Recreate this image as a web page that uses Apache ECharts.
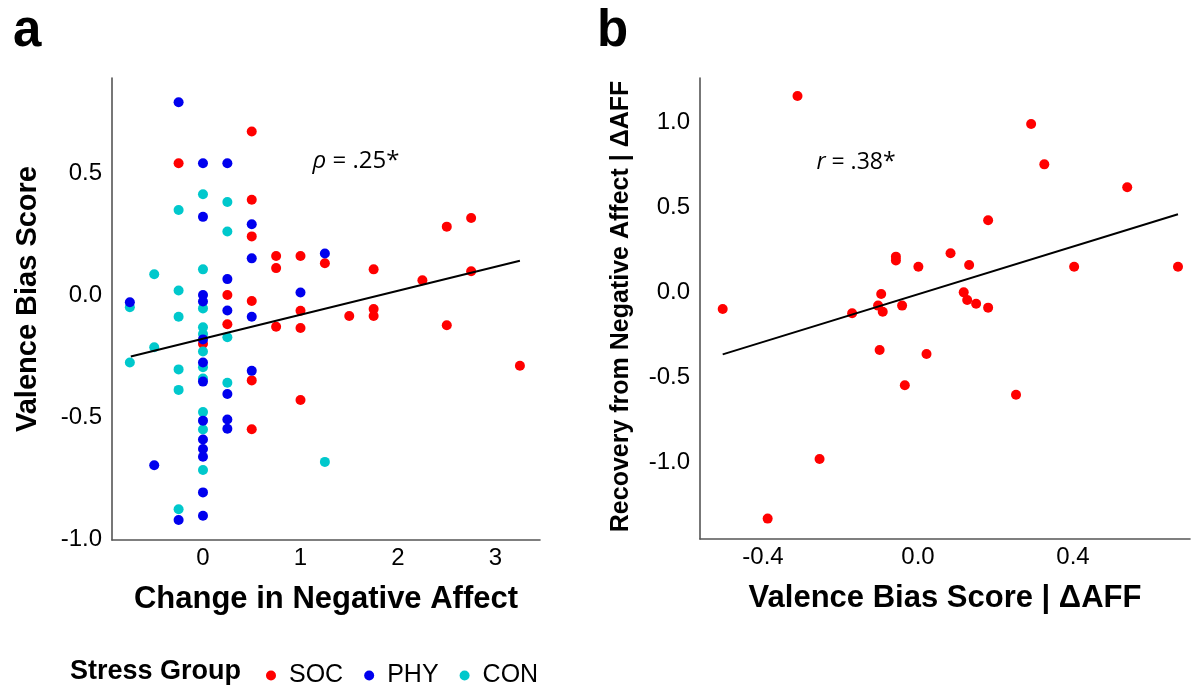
<!DOCTYPE html>
<html><head><meta charset="utf-8">
<script src="https://cdn.jsdelivr.net/npm/echarts@6/dist/echarts.min.js"></script>
<style>html,body{margin:0;padding:0;background:#fff}#c{width:1202px;height:686px}</style>
</head><body><div id="c"></div>
<script>
// ---- Panel a data: [Change in Negative Affect, Valence Bias Score]
const socA = [[-0.25,0.54],[0.5,0.67],[0.5,0.39],[0.5,0.24],[0.75,0.16],[1.0,0.16],[0.75,0.11],[1.25,0.13],
  [0.25,0.0],[0.5,-0.025],[1.0,-0.065],[0.25,-0.12],[0.75,-0.13],[1.0,-0.135],[0,-0.2],[0.5,-0.35],[1.0,-0.43],
  [0.5,-0.55],[2.5,0.28],[2.75,0.315],[1.75,0.105],[2.25,0.06],[2.75,0.097],[1.75,-0.058],[1.75,-0.086],
  [1.5,-0.086],[2.5,-0.124],[3.25,-0.29]];
const phyA = [[-0.25,0.79],[0,0.54],[0.25,0.54],[0,0.32],[0.5,0.29],[0.5,0.15],[1.25,0.17],[0.25,0.065],
  [0,0.0],[1.0,0.01],[-0.75,-0.03],[0,-0.027],[0.25,-0.064],[0.5,-0.089],[0,-0.182],[0,-0.277],[0.5,-0.311],
  [0,-0.355],[0.25,-0.406],[0,-0.515],[0.25,-0.51],[0.25,-0.548],[0,-0.592],[0,-0.631],[0,-0.663],
  [-0.5,-0.698],[0,-0.809],[-0.25,-0.922],[0,-0.905]];
const conA = [[0,0.413],[0.25,0.381],[-0.25,0.348],[0.25,0.26],[-0.5,0.085],[0,0.105],[-0.25,0.018],
  [-0.75,-0.05],[0,-0.055],[-0.25,-0.089],[0,-0.132],[0,-0.16],[0.25,-0.173],[-0.5,-0.214],[-0.75,-0.277],
  [0,-0.232],[0,-0.296],[-0.25,-0.305],[0,-0.342],[0.25,-0.36],[-0.25,-0.389],[0,-0.48],[0,-0.551],
  [1.25,-0.684],[0,-0.717],[-0.25,-0.878]];
const fitA = [[-0.74,-0.252],[3.25,0.14]];
// ---- Panel b data: [Valence Bias Score | dAFF, Recovery | dAFF]
const ptsB = [[-0.311,1.153],[0.292,0.988],[0.326,0.751],[0.54,0.616],[0.181,0.422],[0.084,0.228],
  [-0.057,0.208],[-0.057,0.186],[0.001,0.149],[0.132,0.159],[0.403,0.149],[0.671,0.149],[-0.095,-0.012],
  [0.118,-0.002],[0.127,-0.047],[0.15,-0.069],[0.181,-0.092],[-0.504,-0.1],[-0.17,-0.125],[-0.103,-0.08],
  [-0.091,-0.116],[-0.041,-0.08],[-0.099,-0.341],[0.022,-0.365],[-0.034,-0.549],[-0.254,-0.982],
  [-0.388,-1.333],[0.253,-0.604]];
const fitB = [[-0.504,-0.367],[0.671,0.457]];
// ---- tick labels
const ticksAx = [0,1,2,3];
const ticksAy = [-1,-0.5,0,0.5];
const ticksBx = [-0.4,0,0.4];
const ticksBy = [-1,-0.5,0,0.5,1];
const groups = ['SOC','PHY','CON'];

const FONT = 'Liberation Sans';
const axisLine = {show:true, onZero:false, lineStyle:{color:'#555555', width:1.6}};
function xAx(grid, min, max, ticks, fmt, name, size){
  return {gridIndex:grid, type:'value', min:min, max:max, splitLine:{show:false}, axisLine:axisLine,
    axisTick:{show:false, customValues:ticks},
    axisLabel:{customValues:ticks, formatter:fmt, fontSize:24, color:'#000', fontFamily:FONT, margin:6},
    name:name, nameLocation:'middle', nameGap:44,
    nameTextStyle:{fontSize:size, fontWeight:'bold', color:'#000', fontFamily:FONT}};
}
function yAx(grid, min, max, ticks, name, size, gap, pad){
  return {gridIndex:grid, type:'value', min:min, max:max, splitLine:{show:false}, axisLine:axisLine,
    axisTick:{show:false, customValues:ticks},
    axisLabel:{customValues:ticks, formatter:v=>v.toFixed(1), fontSize:24, color:'#000', fontFamily:FONT, margin:10},
    name:name, nameLocation:'middle', nameGap:gap, nameRotate:90,
    nameTextStyle:{fontSize:size, fontWeight:'bold', color:'#000', fontFamily:FONT, padding:pad}};
}
const chart = echarts.init(document.getElementById('c'), null, {renderer:'canvas'});
const dot = 10;
chart.setOption({
  animation:false,
  backgroundColor:'#fff',
  grid:[{left:112, top:78, width:428, height:462}, {left:700, top:78, width:490, height:461}],
  xAxis:[xAx(0,-0.933,3.456,ticksAx,v=>String(v),'Change in Negative Affect',31),
         xAx(1,-0.5626,0.702,ticksBx,v=>v.toFixed(1),'Valence Bias Score | ΔAFF',31)],
  yAxis:[yAx(0,-1.004,0.889,ticksAy,'Valence Bias Score',29,70,[0,0,0,20]),
         yAx(1,-1.453,1.259,ticksBy,'Recovery from Negative Affect | ΔAFF',25,66,[0,0,0,4])],
  legend:{data:groups, left:261, top:658, icon:'circle', itemWidth:10, itemHeight:10, itemGap:21,
    textStyle:{fontSize:25, color:'#000', fontFamily:FONT, padding:[0,0,0,8]}},
  series:[
    {name:'SOC', type:'scatter', xAxisIndex:0, yAxisIndex:0, data:socA, symbolSize:dot, itemStyle:{color:'#FF0000', opacity:1}},
    {name:'CON', type:'scatter', xAxisIndex:0, yAxisIndex:0, data:conA, symbolSize:dot, itemStyle:{color:'#00C8CC', opacity:1}},
    {name:'PHY', type:'scatter', xAxisIndex:0, yAxisIndex:0, data:phyA, symbolSize:dot, itemStyle:{color:'#0000EE', opacity:1}},
    {name:'fitA', type:'line', xAxisIndex:0, yAxisIndex:0, data:fitA, showSymbol:false, lineStyle:{color:'#000', width:2}},
    {name:'b', type:'scatter', xAxisIndex:1, yAxisIndex:1, data:ptsB, symbolSize:dot, itemStyle:{color:'#FF0000', opacity:1}},
    {name:'fitB', type:'line', xAxisIndex:1, yAxisIndex:1, data:fitB, showSymbol:false, lineStyle:{color:'#000', width:2}}
  ],
  graphic:[
    {type:'text', x:13, y:57, style:{text:'a', font:'bold 51px "Liberation Sans"', fill:'#000', verticalAlign:'bottom'}},
    {type:'text', x:597, y:57, style:{text:'b', font:'bold 51px "Liberation Sans"', fill:'#000', verticalAlign:'bottom'}},
    {type:'text', x:356, y:161, style:{text:'{i|ρ} = .25*', font:'24px "Open Sans"', fill:'#000', align:'center', verticalAlign:'middle',
      rich:{i:{fontStyle:'italic', fontSize:24, fontFamily:'Open Sans'}}}},
    {type:'text', x:856, y:162, style:{text:'{i|r} = .38*', font:'23px "Open Sans"', fill:'#000', align:'center', verticalAlign:'middle',
      rich:{i:{fontStyle:'italic', fontSize:23, fontFamily:'Open Sans'}}}},
    {type:'text', x:70, y:672, style:{text:'Stress Group', font:'bold 27px "Liberation Sans"', fill:'#000', verticalAlign:'middle'}}
  ]
});
</script></body></html>
